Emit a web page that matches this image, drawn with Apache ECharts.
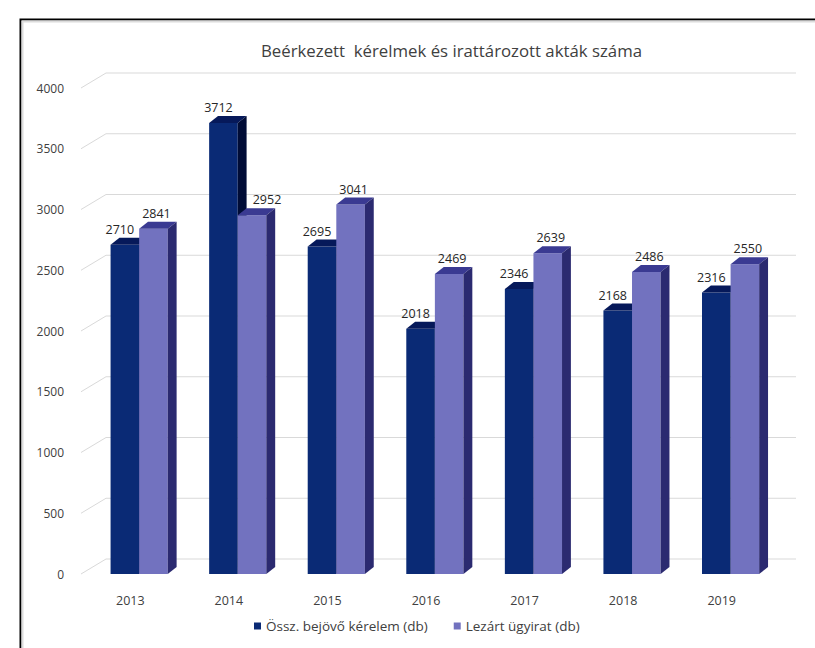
<!DOCTYPE html>
<html>
<head>
<meta charset="utf-8">
<script src="https://cdn.jsdelivr.net/npm/echarts@6/dist/echarts.min.js"></script>
<style>
html,body{margin:0;padding:0;background:#fff;}
#chart{width:815px;height:648px;}
</style>
</head>
<body>
<div id="chart"></div>
<script>
const titleText = 'Beérkezett  kérelmek és irattározott akták száma';
const categories = ['2013', '2014', '2015', '2016', '2017', '2018', '2019'];
const seriesNames = ['Össz. bejövő kérelem (db)', 'Lezárt ügyirat (db)'];
const incoming = [2710, 3712, 2695, 2018, 2346, 2168, 2316];
const closed = [2841, 2952, 3041, 2469, 2639, 2486, 2550];
const yTicks = [0, 500, 1000, 1500, 2000, 2500, 3000, 3500, 4000];

const FONT = '"Open Sans", Lato, sans-serif';
const palette = [
  { front: '#0a2a75', top: '#06195a', side: '#000c36' },
  { front: '#7272bf', top: '#3a3a92', side: '#2b2a70' }
];
const WALL_DX = 25, WALL_DY = 15;

function geom(idx, params, api) {
  const cat = api.value(0), val = api.value(1);
  const base = api.coord([cat, 0]);
  const top = api.coord([cat, val]);
  const band = api.size([1, 0])[0];
  const w = band * 0.29;
  return { cat, val, w, dx: band * 0.09, dy: 7, x0: base[0] - band * 0.2 + idx * w, yt: top[1], yb: base[1] };
}

function barRenderer(idx) {
  const c = palette[idx];
  return function (params, api) {
    const g = geom(idx, params, api);
    const { x0, w, dx, dy, yt, yb } = g;
    return {
      type: 'group',
      children: [
        { type: 'rect', shape: { x: x0, y: yt, width: w, height: yb - yt }, style: { fill: c.front } },
        { type: 'polygon', shape: { points: [[x0, yt], [x0 + dx, yt - dy], [x0 + w + dx, yt - dy], [x0 + w, yt]] }, style: { fill: c.top } },
        { type: 'polygon', shape: { points: [[x0 + w, yt], [x0 + w + dx, yt - dy], [x0 + w + dx, yb - dy], [x0 + w, yb]] }, style: { fill: c.side } }
      ]
    };
  };
}

function labelRenderer(idx) {
  return function (params, api) {
    const g = geom(idx, params, api);
    let shift = idx === 0 ? -5 : 3;
    if (idx === 1 && incoming[g.cat] > closed[g.cat]) shift += 12;
    return {
      type: 'text',
      style: { text: String(g.val), x: g.x0 + g.w / 2 + shift, y: g.yt - g.dy - 2, align: 'center', verticalAlign: 'bottom', fill: '#262626', font: '12.5px ' + FONT }
    };
  };
}

function wallRenderer(params, api) {
  const v = api.value(1);
  const y = api.coord([0, v])[1];
  const cs = params.coordSys;
  return {
    type: 'polyline',
    shape: { points: [[cs.x, y], [cs.x + WALL_DX, y - WALL_DY], [cs.x + cs.width + WALL_DX, y - WALL_DY]] },
    style: { stroke: '#d9d9d9', lineWidth: 1, fill: null }
  };
}

const chart = echarts.init(document.getElementById('chart'), null, { renderer: 'svg' });
chart.setOption({
  backgroundColor: '#ffffff',
  animation: false,
  graphic: [
    { type: 'rect', left: 18, top: 17, shape: { width: 830, height: 660 }, style: { fill: null, stroke: '#000', lineWidth: 2 }, silent: true },
    { type: 'rect', left: 20, top: 19, shape: { width: 830, height: 660 }, style: { fill: null, stroke: '#dcdcdc', lineWidth: 2 }, silent: true }
  ],
  title: {
    text: titleText,
    left: 256, top: 37,
    textStyle: { fontFamily: FONT, fontSize: 16.8, fontWeight: 'normal', color: '#404040' }
  },
  legend: {
    bottom: 10, left: 249,
    icon: 'rect', itemWidth: 7, itemHeight: 7, itemGap: 26,
    textStyle: { fontFamily: FONT, fontSize: 13.5, color: '#404040' },
    data: seriesNames
  },
  grid: { left: 81, right: 44, top: 88, bottom: 74 },
  xAxis: {
    type: 'category', data: categories,
    axisLine: { show: false }, axisTick: { show: false },
    axisLabel: { margin: 20, color: '#404040', fontFamily: FONT, fontSize: 12.5 }
  },
  yAxis: {
    type: 'value', min: 0, max: 4000, interval: 500,
    axisLine: { show: false }, axisTick: { show: false }, splitLine: { show: false },
    axisLabel: { margin: 17, color: '#404040', fontFamily: FONT, fontSize: 12, padding: [6, 0, 0, 0], formatter: v => String(v) }
  },
  series: [
    { type: 'custom', name: 'wall', silent: true, renderItem: wallRenderer, data: yTicks.map(v => [0, v]), encode: { x: 0, y: 1 }, z: 1 },
    { type: 'custom', name: seriesNames[0], renderItem: barRenderer(0), itemStyle: { color: palette[0].front }, data: incoming.map((v, i) => [i, v]), encode: { x: 0, y: 1 }, z: 2 },
    { type: 'custom', name: seriesNames[1], renderItem: barRenderer(1), itemStyle: { color: palette[1].front }, data: closed.map((v, i) => [i, v]), encode: { x: 0, y: 1 }, z: 3 },
    { type: 'custom', name: seriesNames[0], silent: true, renderItem: labelRenderer(0), itemStyle: { color: palette[0].front }, data: incoming.map((v, i) => [i, v]), encode: { x: 0, y: 1 }, z: 10 },
    { type: 'custom', name: seriesNames[1], silent: true, renderItem: labelRenderer(1), itemStyle: { color: palette[1].front }, data: closed.map((v, i) => [i, v]), encode: { x: 0, y: 1 }, z: 10 }
  ]
});
</script>
</body>
</html>
